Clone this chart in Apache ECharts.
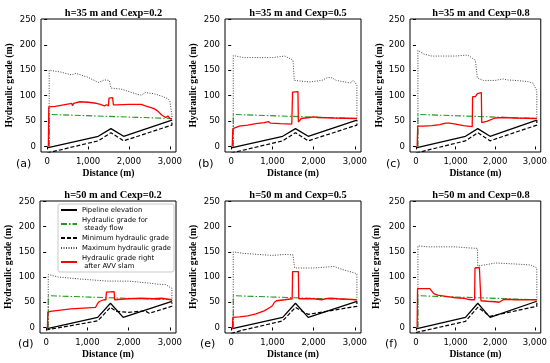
<!DOCTYPE html>
<html><head><meta charset="utf-8">
<script src="https://cdn.jsdelivr.net/npm/echarts@6/dist/echarts.min.js"></script>
<style>html,body{margin:0;padding:0;background:#fff}#c{width:550px;height:363px}</style>
</head><body><div id="c"></div>
<script>
// ---- data ----
const titles = ['h=35 m and Cexp=0.2','h=35 m and Cexp=0.5','h=35 m and Cexp=0.8','h=50 m and Cexp=0.2','h=50 m and Cexp=0.5','h=50 m and Cexp=0.8'];
const tags = ['(a)','(b)','(c)','(d)','(e)','(f)'];
const seriesNames = ['Pipeline elevation','Hydraulic grade for\n steady flow','Minimum hydraulic grade','Maximum hydraulic grade','Hydraulic grade right\n after AVV slam'];
const xTicks = [0,1000,2000,3000];
const yTicks = [0,50,100,150,200,250];

const elevRow1 = [[0,-3],[1250,20],[1560,35],[1870,20],[3050,52]];
const elevRow2 = [[0,-3],[1250,20],[1560,48],[1870,20],[3050,52]];
const steadyRow1 = [[50,0],[50,63],[3050,55]];
const steadyRow2 = [[50,0],[50,63],[3050,55]];

const minRow1 = [[0,-13],[1250,11],[1560,27],[1870,11],[3050,42],[3050,52]];
const minD = [[0,-5],[1250,13],[1560,40],[1700,32],[2000,30],[2400,33],[2500,28],[3050,42],[3050,50]];
const minE = [[0,-12],[250,-6],[1250,13],[1560,40],[1700,33],[1870,26],[3050,42],[3050,52]];
const minF = [[0,-10],[1250,12],[1560,40],[1870,22],[3050,42],[3050,52]];

const maxA = [[50,0],[50,150],[300,147],[600,141],[700,144],[1000,136],[1250,126],[1400,131],[1520,130],[1560,115],[1800,113],[2000,108],[2200,103],[2300,101],[2400,106],[2600,104],[2800,99],[2950,94],[3000,90],[3050,60],[3050,55]];
const maxB = [[50,0],[50,179],[300,175],[1000,175],[1300,178],[1450,172],[1500,170],[1530,130],[1900,127],[2000,128],[2200,130],[2350,136],[2450,135],[2550,130],[2900,125],[2950,130],[3000,127],[3050,120],[3050,55]];
const maxC = [[50,0],[50,189],[200,182],[400,178],[1000,178],[1300,180],[1400,175],[1500,170],[1550,135],[1700,130],[2000,130],[2200,133],[2300,131],[2500,130],[2800,128],[2950,125],[3050,110],[3050,55]];
const maxD = [[50,0],[50,105],[300,100],[1000,95],[1500,92],[2000,92],[2500,88],[2700,86],[2900,85],[3000,80],[3050,78],[3050,50]];
const maxE = [[50,0],[50,150],[300,147],[1000,143],[1300,145],[1500,144],[1540,118],[2000,118],[2500,121],[2700,115],[3000,108],[3050,106],[3050,55]];
const maxF = [[50,0],[50,162],[300,160],[1000,160],[1300,158],[1550,157],[1560,122],[1800,125],[2000,128],[2500,126],[2900,124],[3050,118],[3050,55]];

const slamA = [[30,0],[40,78],[200,79],[400,82],[600,85],[620,80],[650,85],[800,88],[1000,87],[1200,85],[1300,83],[1400,80],[1450,82],[1500,80],[1510,95],[1550,97],[1600,96],[1620,82],[1700,82],[2000,83],[2300,83],[2400,80],[2600,75],[2700,70],[2800,62],[2900,57],[2950,60],[3000,55],[3050,54]];
const slamB = [[25,0],[40,35],[70,38],[200,40],[400,42],[600,45],[800,47],[900,49],[920,52],[950,46],[1200,45],[1470,44],[1490,107],[1620,108],[1630,48],[1700,55],[1900,57],[2000,58],[2100,57],[2500,56],[3050,55]];
const slamC = [[30,0],[45,40],[200,40],[400,41],[600,43],[750,46],[800,49],[850,46],[1000,44],[1200,41],[1420,39],[1430,98],[1500,98],[1530,96],[1550,104],[1600,106],[1650,106],[1660,47],[1800,50],[2000,56],[2200,57],[2500,56],[3050,55]];
const slamD = [[30,-3],[40,30],[100,32],[200,33],[400,35],[600,37],[800,38],[1000,39],[1200,40],[1250,48],[1300,52],[1400,55],[1450,55],[1460,70],[1650,71],[1660,55],[1800,56],[2000,57],[2300,58],[2600,57],[2800,58],[3050,55]];
const slamE = [[30,-3],[40,20],[200,21],[400,23],[600,27],[800,33],[950,40],[1000,43],[1050,50],[1100,53],[1300,55],[1480,57],[1490,111],[1630,111],[1640,57],[2000,57],[2200,55],[2300,57],[2400,58],[2600,57],[3050,55]];
const slamF = [[30,0],[40,77],[350,77],[400,75],[450,67],[550,64],[800,61],[1000,59],[1200,58],[1300,56],[1400,55],[1450,53],[1480,55],[1490,118],[1600,119],[1620,117],[1640,53],[1800,52],[2000,51],[2100,50],[2200,55],[2300,56],[2500,55],[3050,55]];

const panelData = [
  [elevRow1, steadyRow1, minRow1, maxA, slamA],
  [elevRow1, steadyRow1, minRow1, maxB, slamB],
  [elevRow1, steadyRow1, minRow1, maxC, slamC],
  [elevRow2, steadyRow2, minD, maxD, slamD],
  [elevRow2, steadyRow2, minE, maxE, slamE],
  [elevRow2, steadyRow2, minF, maxF, slamF]
];

// ---- layout / styles ----
const boxes = [[41,19,135,133],[225,19,136,133],[410,19,132,133],[40,201,136,132],[225,201,136,132],[410,201,132,132]];
const nameGaps = [26,26,21,26,26,28];
const tagPos = [[16,159],[198,159],[386,159],[18,339],[200,339],[385,339]];
const lineStyles = [
  {color:'#000', width:1.3, type:'solid'},
  {color:'#1f9a1f', width:1.1, type:[6,2,1.5,2]},
  {color:'#000', width:1.2, type:[4,2]},
  {color:'#444', width:1, type:[1,1.5]},
  {color:'#ff0000', width:1.3, type:'solid'}
];
const serif = 'Liberation Serif';
const sans = 'DejaVu Sans';

const grid=[], xAxis=[], yAxis=[], series=[], title=[], graphic=[];
boxes.forEach((b,i)=>{
  grid.push({left:b[0], top:b[1], width:b[2], height:b[3], show:true, borderColor:'#000', borderWidth:1, backgroundColor:'transparent'});
  xAxis.push({type:'value', gridIndex:i, min:-150, max:3150,
    name:'Distance (m)', nameLocation:'middle', nameGap:17,
    nameTextStyle:{fontFamily:serif, fontWeight:'bold', fontSize:9.6, color:'#000'},
    splitLine:{show:false}, axisLine:{show:false},
    axisTick:{show:true, length:3, inside:false, lineStyle:{color:'#000'}, customValues:xTicks},
    axisLabel:{fontFamily:sans, fontSize:8.5, color:'#000', margin:5, customValues:xTicks}});
  yAxis.push({type:'value', gridIndex:i, min:-11, max:251,
    name:'Hydraulic grade (m)', nameLocation:'middle', nameGap:nameGaps[i], nameRotate:90,
    nameTextStyle:{fontFamily:serif, fontWeight:'bold', fontSize:9.6, color:'#000'},
    splitLine:{show:false}, axisLine:{show:false},
    axisTick:{show:true, length:3, inside:false, lineStyle:{color:'#000'}, customValues:yTicks},
    axisLabel:{fontFamily:sans, fontSize:8.5, color:'#000', margin:5, customValues:yTicks}});
  title.push({text:titles[i], left:b[0]+b[2]/2, top:b[1]-16, textAlign:'center',
    textStyle:{fontFamily:serif, fontWeight:'bold', fontSize:10.4, color:'#000'}});
  graphic.push({type:'text', left:tagPos[i][0], top:tagPos[i][1], style:{text:tags[i], fontFamily:sans, fontSize:11, fill:'#000'}});
  panelData[i].forEach((d,k)=>{
    series.push({type:'line', name:seriesNames[k], xAxisIndex:i, yAxisIndex:i, data:d,
      symbol:'none', showSymbol:false, animation:false, lineStyle:lineStyles[k], itemStyle:{color:lineStyles[k].color}, z:2+k});
  });
});

const chart = echarts.init(document.getElementById('c'), null, {renderer:'canvas'});
chart.setOption({
  animation:false,
  backgroundColor:'#fff',
  title, grid, xAxis, yAxis, series, graphic,
  legend:{data:seriesNames, orient:'vertical', left:58, top:204, padding:[2,3,2,2],
    backgroundColor:'#fff', borderColor:'#bbb', borderWidth:0.8, borderRadius:2,
    itemWidth:16, itemHeight:8, itemGap:2, selectedMode:false,
    itemStyle:{opacity:0},
    textStyle:{fontFamily:sans, fontSize:6.8, color:'#000', lineHeight:8}}
});
</script></body></html>
